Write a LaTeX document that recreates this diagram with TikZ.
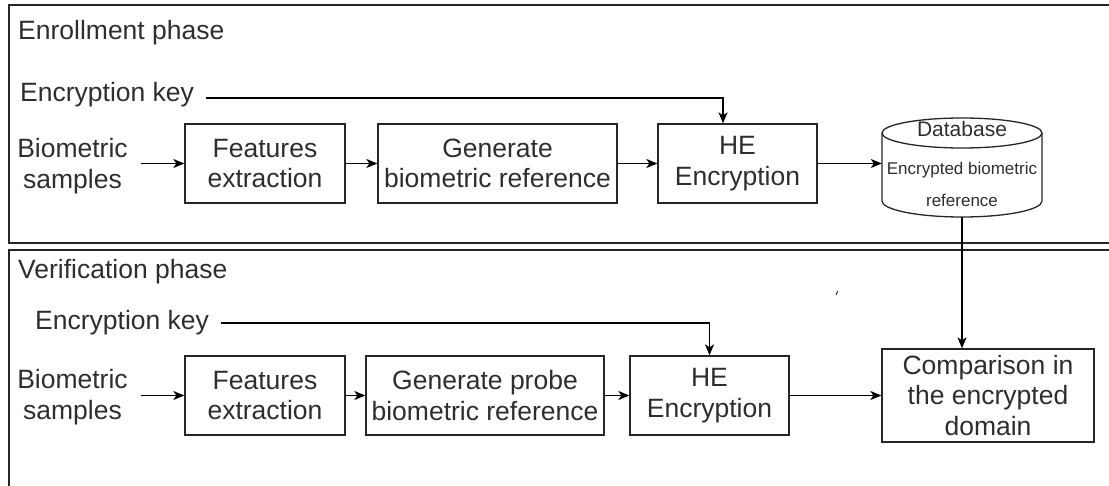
\documentclass[tikz,border=0pt]{standalone}
\usepackage{fontspec}
\setmainfont{Liberation Sans}
\usetikzlibrary{arrows.meta}
\begin{document}
\begin{tikzpicture}[x=1pt,y=-1pt,
  lbl/.style={font=\fontsize{26.5}{30.5}\selectfont, text=black!82, inner sep=0pt, align=center},
  box/.style={lbl, draw=black!85, line width=1.3pt, minimum height=79pt},
  arr/.style={line width=1.2pt, draw=black, -{Stealth[length=11pt,width=9pt,inset=3pt]}},
  panel/.style={line width=1.4pt, draw=black!85}]
\useasboundingbox (0,0) rectangle (1109,486);

% panels
\draw[panel] (1112,5) -- (9,5) -- (9,243) -- (1112,243);
\draw[panel] (1112,250) -- (9,250) -- (9,490);

% enrollment
\node[lbl, anchor=west] (t1) at (18,33) {Enrollment phase};
\node[lbl, anchor=west] (k1) at (20,95) {Encryption key};
\node[lbl] (b1) at (72.5,166) {Biometric\\samples};
\node[box, minimum width=160pt] (f1) at (265,163.5) {Features\\extraction};
\node[box, minimum width=239pt] (g1) at (497.5,163.5) {Generate\\biometric reference};
\node[box, minimum width=159pt] (h1) at (737.5,163.5) {HE\\Encryption};
\node[minimum width=160pt, minimum height=99pt, inner sep=0pt] (db) at (962,167.5) {};
\draw[line width=1.3pt, draw=black!85]
  (882,133) -- (882,201) arc[start angle=180, end angle=360, x radius=80pt, y radius=16pt]
  -- (1042,133) arc[start angle=0, end angle=180, x radius=80pt, y radius=15pt] -- cycle;
\draw[line width=1.3pt, draw=black!85]
  (882,133) arc[start angle=180, end angle=360, x radius=80pt, y radius=15pt];
\node[font=\fontsize{21}{25}\selectfont, text=black!82, inner sep=0pt] (dbt) at (962,129) {Database};
\node[font=\fontsize{17}{32}\selectfont, text=black!82, inner sep=0pt, align=center] (dbc) at (962,184) {Encrypted biometric\\reference};

\coordinate (c1) at (723,98);
\draw[arr, shorten <=13pt] (b1.east |- f1.west) -- (f1.west);
\draw[arr] (f1) -- (g1);
\draw[arr] (g1) -- (h1);
\draw[arr] (h1.east) -- (h1.east -| db.west);
\draw[arr, shorten <=12pt] (k1.east |- c1) -- (c1) -- (c1 |- h1.north);

% verification
\node[lbl, anchor=west] (t2) at (18,272) {Verification phase};
\node[lbl, anchor=west] (k2) at (35,323) {Encryption key};
\node[lbl] (b2) at (72.5,397) {Biometric\\samples};
\node[box, minimum width=160pt] (f2) at (265,395.5) {Features\\extraction};
\node[box, minimum width=238pt] (g2) at (485,395.5) {Generate probe\\biometric reference};
\node[box, minimum width=159pt] (h2) at (709.5,395.5) {HE\\Encryption};
\node[box, minimum width=212pt, minimum height=93pt] (cmp) at (988,395.5) {Comparison in\\the encrypted\\domain};

\draw[arr, shorten <=13pt] (b2.east |- f2.west) -- (f2.west);
\draw[arr] (f2) -- (g2);
\draw[arr] (g2) -- (h2);
\draw[arr] (h2) -- (cmp);
\draw[arr, shorten <=12pt] (k2.east) -| (h2.north);
\draw[arr] (db.south) -- (db.south |- cmp.north);

% stray mark
\draw[line width=1pt, black!85] (836.3,295) -- (837.5,291);
\end{tikzpicture}
\end{document}
